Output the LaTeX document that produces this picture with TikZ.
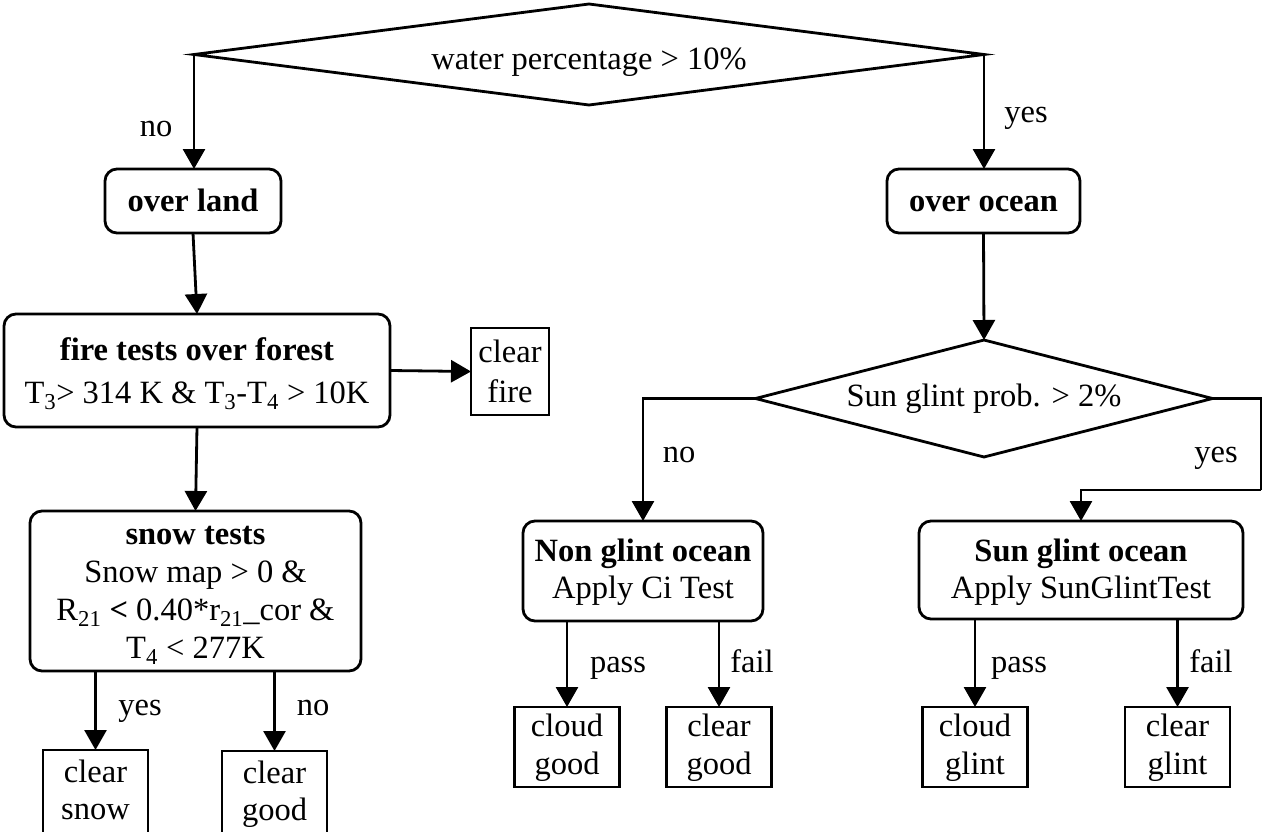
\documentclass[tikz,border=0pt]{standalone}
\usepackage{fontspec}
\setmainfont{Liberation Serif}
\usetikzlibrary{shapes.geometric,arrows.meta}

% centred stack of lines, optionally moved down/up without changing its size
\newcommand\linestack[2][0pt]{%
  \raisebox{#1}[\height][\depth]{\begin{tabular}{@{}c@{}}#2\end{tabular}}}

\tikzset{
  proc/.style={draw, rounded corners=12pt, line width=2.8pt,
               inner sep=0pt, outer sep=0pt},
  leaf/.style={draw, rectangle, line width=2.8pt,
               inner sep=0pt, outer sep=0pt, minimum width=105pt, minimum height=80pt},
  decision/.style={draw, diamond, line width=2.8pt, inner sep=0pt, outer sep=0pt},
  lbl/.style={inner sep=0pt, anchor=base},
  flow/.style={line width=2.8pt, -{Triangle[length=20pt,width=22pt]}},
  link/.style={line width=2.8pt},
}

\begin{document}
\begin{tikzpicture}[x=1pt, y=-1pt, font=\fontsize{32.5}{37}\selectfont]
\useasboundingbox (0,0) rectangle (1263,832);

% top-level decision
\node[decision, aspect=8, minimum width=790pt, minimum height=101pt] (water) at (589,54.5)
  {\raisebox{-8pt}[\height][\depth]{water percentage > 10\%}};

% land branch
\node[proc, minimum width=176pt, minimum height=64pt, text height=25pt, text depth=5pt]
  (land) at (193,201) {\textbf{over land}};
\node[proc, minimum width=386pt, minimum height=113pt] (fire) at (197,370.5)
  {\linestack[-4pt]{\textbf{fire tests over forest}\\[6pt]
   T\textsubscript{3}> 314 K \& T\textsubscript{3}-T\textsubscript{4} > 10K}};
\node[leaf, minimum width=78pt, minimum height=87pt] (cfire) at (510,371.5)
  {\linestack[-4pt]{clear\\[3pt]fire}};
\node[proc, minimum width=331pt, minimum height=160pt] (snow) at (195.5,591)
  {\linestack[-3pt]{\textbf{snow tests}\\[1pt]
   Snow map > 0 \&\\[1pt]
   R\textsubscript{21} \textbf{<} 0.40*r\textsubscript{21}\_cor \&\\[1pt]
   T\textsubscript{4} < 277K}};
\node[leaf, minimum height=84pt] (csnow) at (95.5,792) {\linestack[-2pt]{clear\\snow}};
\node[leaf, minimum height=84pt] (cgoodL) at (274.5,793) {\linestack[-2pt]{clear\\good}};

% ocean branch
\node[proc, minimum width=193pt, minimum height=64pt, text height=25pt, text depth=5pt]
  (ocean) at (983.5,201) {\textbf{over ocean}};
\node[decision, aspect=4, minimum width=457pt, minimum height=117pt] (glint) at (984,398.5)
  {Sun glint prob. > 2\%};
\node[proc, minimum width=240pt, minimum height=100pt] (nonglint) at (643,571)
  {\linestack[-2pt]{\textbf{Non glint ocean}\\Apply Ci Test}};
\node[proc, minimum width=324pt, minimum height=98pt] (sunglint) at (1081,570)
  {\linestack[-3pt]{\textbf{Sun glint ocean}\\Apply SunGlintTest}};
\node[leaf] (cloudgood) at (567,747) {\linestack[-1pt]{cloud\\[1pt]good}};
\node[leaf] (cleargood) at (719,747) {\linestack[-1pt]{clear\\[1pt]good}};
\node[leaf] (cloudglint) at (975,747) {\linestack[-1pt]{cloud\\[1pt]glint}};
\node[leaf] (clearglint) at (1177.5,747) {\linestack[-1pt]{clear\\[1pt]glint}};
\coordinate (jog) at (1261,490);

% connectors
\draw[flow] (water.west) -- (water.west |- land.north);
\draw[flow] (water.east) -- (water.east |- ocean.north);
\draw[flow] (land.south) -- (fire.north);
\draw[flow] (fire.east) -- (cfire.west);
\draw[flow] (fire.south) -- (snow.north);
\draw[flow] (csnow |- snow.south) -- (csnow.north);
\draw[flow] (cgoodL |- snow.south) -- (cgoodL.north);
\draw[flow] (ocean.south) -- (glint.north);
\draw[flow] (glint.west) -| (nonglint.north);
\draw[link] (glint.east) -| (jog);
\draw[flow] (jog) -| (sunglint.north);
\draw[flow] (cloudgood |- nonglint.south) -- (cloudgood.north);
\draw[flow] (cleargood |- nonglint.south) -- (cleargood.north);
\draw[flow] (cloudglint |- sunglint.south) -- (cloudglint.north);
\draw[flow] (clearglint |- sunglint.south) -- (clearglint.north);

% branch labels (placed on their baselines)
\node[lbl] (noA) at (156,137) {no};
\node[lbl] (yesA) at (1026,123) {yes};
\node[lbl] (noB) at (679,462) {no};
\node[lbl] (yesB) at (1216,462) {yes};
\node[lbl] (yesC) at (140,715) {yes};
\node[lbl] (noC) at (313,715) {no};
\node[lbl] (passA) at (618,672) {pass};
\node[lbl] (failA) at (752,672) {fail};
\node[lbl] (passB) at (1019,672) {pass};
\node[lbl] (failB) at (1211,672) {fail};
\end{tikzpicture}
\end{document}
